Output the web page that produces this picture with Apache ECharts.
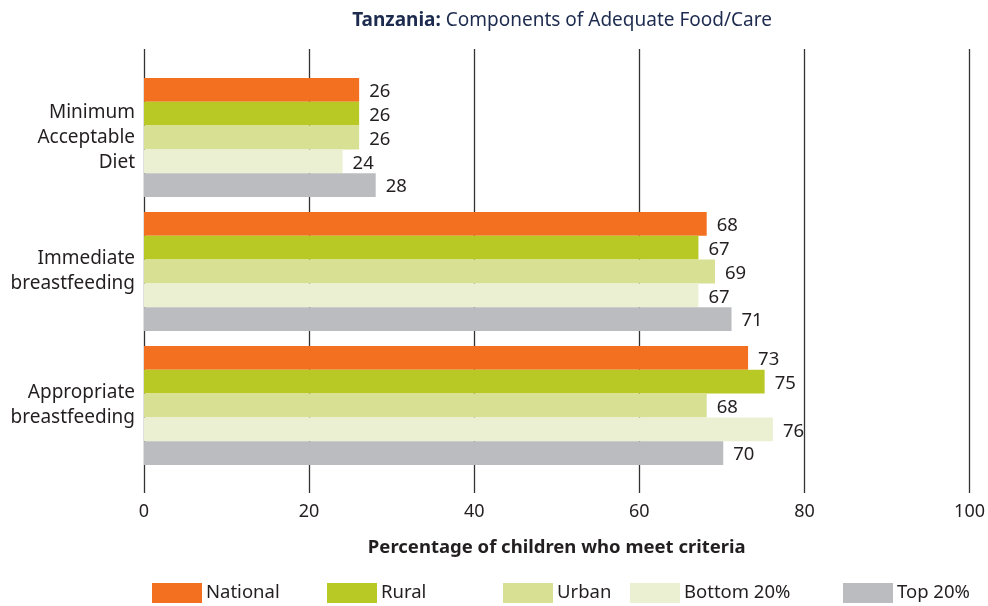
<!DOCTYPE html>
<html>
<head>
<meta charset="utf-8">
<script src="https://cdn.jsdelivr.net/npm/echarts@6/dist/echarts.min.js"></script>
<style>
  html, body { margin: 0; padding: 0; background: #fff; }
  #chart { width: 988px; height: 606px; }
</style>
</head>
<body>
<div id="chart"></div>
<script>
// Indicators shown on the vertical axis (top to bottom)
const categories = ['Minimum\nAcceptable\nDiet', 'Immediate\nbreastfeeding', 'Appropriate\nbreastfeeding'];

// Percentage of children meeting each criterion, by population group
const national = [26, 68, 73];
const rural    = [26, 67, 75];
const urban    = [26, 69, 68];
const bottom20 = [24, 67, 76];
const top20    = [28, 71, 70];

const seriesNames = ['National', 'Rural', 'Urban', 'Bottom 20%', 'Top 20%'];
const seriesValues = [national, rural, urban, bottom20, top20];
const seriesColors = ['#f37021', '#b8c825', '#d8e093', '#ecf0d2', '#bbbcbf'];

const xTicks = [0, 20, 40, 60, 80, 100];

const FONT = '"Noto Sans", "Open Sans", sans-serif';
const TEXT = '#231f20';

const chart = echarts.init(document.getElementById('chart'));

const series = seriesNames.map((name, i) => ({
  name: name,
  type: 'bar',
  xAxisIndex: 0,
  yAxisIndex: 0,
  data: seriesValues[i],
  barGap: '0%',
  barCategoryGap: '11.2%',
  itemStyle: { color: seriesColors[i] },
  label: {
    show: true,
    position: 'right',
    distance: 10,
    offset: [0, 2],
    color: TEXT,
    fontFamily: FONT,
    fontSize: 18.5
  },
  z: 10
}));

// Legend items are placed individually along the bottom row
const legendLefts = [152, 327, 503, 630, 843];
const legends = seriesNames.map((name, i) => ({
  data: [name],
  left: legendLefts[i],
  top: 583,
  itemWidth: 50,
  itemHeight: 20,
  itemGap: 0,
  icon: 'rect',
  selectedMode: false,
  textStyle: { color: TEXT, fontFamily: FONT, fontSize: 18.5, padding: [0, 0, 0, -1] },
  padding: 0
}));

chart.setOption({
  backgroundColor: '#ffffff',
  animation: false,
  title: {
    text: '{b|Tanzania:} Components of Adequate Food/Care',
    left: 557,
    textAlign: 'center',
    top: 6,
    textStyle: {
      fontFamily: FONT,
      fontSize: 19,
      fontWeight: 'normal',
      color: '#1d2b4f',
      rich: {
        b: { fontFamily: FONT, fontSize: 19, fontWeight: 'bold', color: '#1d2b4f' }
      }
    }
  },
  legend: legends,
  grid: [
    // bars
    { left: 144, right: 16.5, top: 70.5, bottom: 133.5, containLabel: false },
    // full-height vertical reference lines and tick labels
    { left: 144, right: 16.5, top: 49, bottom: 113, containLabel: false }
  ],
  xAxis: [
    {
      gridIndex: 0, type: 'value', min: 0, max: 100, interval: 20,
      axisLine: { show: false }, axisTick: { show: false },
      axisLabel: { show: false }, splitLine: { show: false }
    },
    {
      gridIndex: 1, type: 'value', min: xTicks[0], max: xTicks[xTicks.length - 1], interval: 20,
      z: -1,
      axisLine: { show: false }, axisTick: { show: false },
      axisLabel: { show: true, margin: 10, color: TEXT, fontFamily: FONT, fontSize: 18 },
      splitLine: { show: true, lineStyle: { color: '#333333', width: 1.3 } },
      name: 'Percentage of children who meet criteria',
      nameLocation: 'middle',
      nameGap: 45,
      nameTextStyle: { color: TEXT, fontFamily: FONT, fontSize: 18.5, fontWeight: 'bold' }
    }
  ],
  yAxis: [
    {
      gridIndex: 0, type: 'category', data: categories, inverse: true,
      axisLine: { show: false }, axisTick: { show: false },
      axisLabel: { margin: 9, color: TEXT, fontFamily: FONT, fontSize: 19, lineHeight: 25, align: 'right' },
      splitLine: { show: false }
    },
    {
      gridIndex: 1, type: 'value', min: 0, max: 1,
      axisLine: { show: false }, axisTick: { show: false },
      axisLabel: { show: false }, splitLine: { show: false }
    }
  ],
  series: series
});
</script>
</body>
</html>
